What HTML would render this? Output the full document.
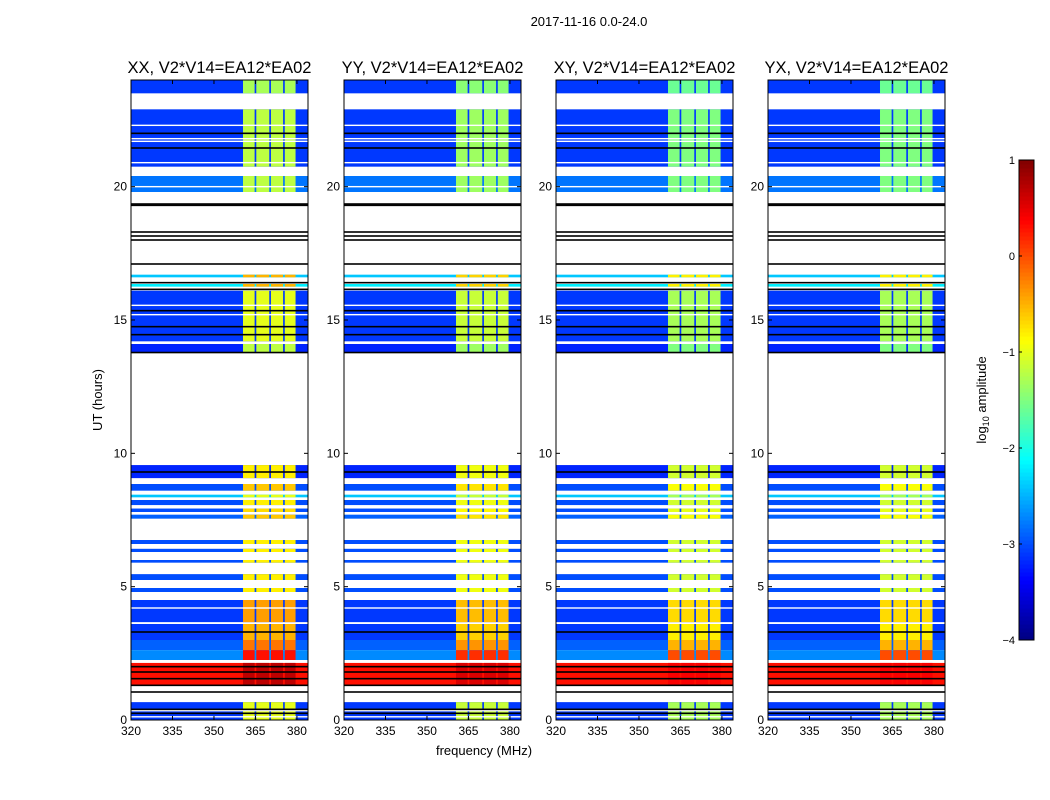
<!DOCTYPE html>
<html><head><meta charset="utf-8"><style>
body{margin:0;background:#fff;}
svg{display:block;font-family:"Liberation Sans",sans-serif;}
</style></head><body>
<svg id="fig" width="1050" height="800" viewBox="0 0 1050 800">
<text x="589" y="26" font-size="13" text-anchor="middle">2017-11-16 0.0-24.0</text>
<text transform="translate(102,400) rotate(-90)" font-size="13" text-anchor="middle">UT (hours)</text>
<text x="484" y="755" font-size="13" text-anchor="middle">frequency (MHz)</text>
<text transform="translate(986,400) rotate(-90)" font-size="13" text-anchor="middle">log<tspan font-size="9" dy="3">10</tspan><tspan dy="-3"> amplitude</tspan></text>
</svg>
<script>
// ---- data ----
const panelTitles = ["XX, V2*V14=EA12*EA02","YY, V2*V14=EA12*EA02","XY, V2*V14=EA12*EA02","YX, V2*V14=EA12*EA02"];
const panelBandOffset = [0, -0.15, -0.3, -0.3];
const segStart = [23.5, 20.75, 19.8, 16.6, 16.25, 14.2, 13.8, 9.07, 8.6, 8.35, 8.06, 7.8, 7.55, 6.6, 6.3, 5.9, 5.25, 4.8, 3.67, 3.0, 2.62, 2.25, 1.31, 0.0];
const segEnd   = [24.0, 22.9, 20.4, 16.7, 16.35, 16.1, 14.1, 9.56, 8.85, 8.45, 8.25, 7.93, 7.7, 6.75, 6.42, 6.0, 5.47, 4.95, 4.5, 3.6, 3.0, 2.62, 2.14, 0.67];
const bgLevel  = [-3.1, -3.1, -2.8, -2.4, -2.2, -3.1, -3.2, -3.2, -3.0, -2.4, -3.0, -3.0, -2.9, -3.0, -3.0, -3.0, -3.0, -3.0, -3.1, -3.1, -2.9, -2.7, 0.3, -3.1];
const bandLevel= [-1.3, -1.2, -1.2, -0.5, -0.5, -1.0, -1.2, -0.8, -0.6, -1.0, -0.8, -0.7, -0.6, -0.8, -0.8, -0.8, -0.8, -0.8, -0.4, -0.5, -0.2, 0.3, 0.7, -1.0];
const subBandLo = [360.5, 365.3, 370.6, 375.6];
const subBandHi = [364.7, 370.0, 375.0, 379.5];
const flagLines = [22.0, 21.45, 19.35, 19.3, 18.3, 18.15, 18.0, 17.1, 16.4, 16.15, 15.35, 14.75, 14.45, 13.78, 9.3, 3.3, 2.0, 1.8, 1.55, 1.3, 1.05, 0.4, 0.25];
const whiteLines = [22.3, 21.8, 21.7, 20.9, 20.0, 15.55, 15.2, 7.2, 4.2, 0.35, 0.12];
const yTicks = [0, 5, 10, 15, 20];
const xTicks = [320, 335, 350, 365, 380];
const cbTicks = [1, 0, -1, -2, -3, -4];
// ---- layout ----
const panelX = [131, 344, 556, 768];
const panelW = 177, plotTop = 80, plotBottom = 720;
const fMin = 320, fMax = 384, hMin = 0, hMax = 24;
const vMin = -4, vMax = 1;
const svg = document.getElementById('fig');
const NS = 'http://www.w3.org/2000/svg';
function mk(tag, attrs, parent){const e=document.createElementNS(NS,tag);for(const k in attrs)e.setAttribute(k,attrs[k]);(parent||svg).appendChild(e);return e;}
function yS(h){return plotBottom-(h-hMin)/(hMax-hMin)*(plotBottom-plotTop);}
function jet(v){
  let t=(v-vMin)/(vMax-vMin);t=Math.max(0,Math.min(1,t));
  const f=x=>Math.round(255*Math.max(0,Math.min(1,x)));
  const r=f(Math.min(4*t-1.5,-4*t+4.5)), g=f(Math.min(4*t-0.5,-4*t+3.5)), b=f(Math.min(4*t+0.5,-4*t+2.5));
  return `rgb(${r},${g},${b})`;
}
panelX.forEach((px,p)=>{
  const xS=f=>px+(f-fMin)/(fMax-fMin)*panelW;
  const g=mk('g',{});
  
  
  for(let i=0;i<segStart.length;i++){
    const y1=yS(segEnd[i]), y2=yS(segStart[i]);
    const r=mk('rect',{x:px,y:y1,width:panelW,height:y2-y1,fill:jet(bgLevel[i])},g);
    
    
    for(let b=0;b<subBandLo.length;b++){
      const rb=mk('rect',{x:xS(subBandLo[b]),y:y1,width:xS(subBandHi[b])-xS(subBandLo[b]),height:y2-y1,fill:jet(bandLevel[i]+panelBandOffset[p])},g);
      
      
    }
  }
  whiteLines.forEach(h=>{const l=mk('rect',{x:px,y:yS(h)-0.7,width:panelW,height:1.4,fill:'#fff'},g);
    
    });
  flagLines.forEach(h=>{const l=mk('rect',{x:px,y:yS(h)-0.8,width:panelW,height:1.6,fill:'#000'},g);
    
    });
  const fr=mk('rect',{x:px,y:plotTop,width:panelW,height:plotBottom-plotTop,fill:'none',stroke:'#000','stroke-width':1},g);
  
  
  const t=mk('text',{x:px+panelW/2,y:73,'font-size':16.5,'text-anchor':'middle'},g);
  t.textContent=panelTitles[p];
  
  
  yTicks.forEach(h=>{const y=yS(h);
    mk('line',{x1:px,x2:px+4,y1:y,y2:y,stroke:'#000'},g);mk('line',{x1:px+panelW-4,x2:px+panelW,y1:y,y2:y,stroke:'#000'},g);
    const tl=mk('text',{x:px-4,y:y+4,'font-size':12,'text-anchor':'end'},g);tl.textContent=h;
    
    });
  xTicks.forEach(f=>{const x=xS(f);
    mk('line',{x1:x,x2:x,y1:plotBottom,y2:plotBottom-4,stroke:'#000'},g);mk('line',{x1:x,x2:x,y1:plotTop,y2:plotTop+4,stroke:'#000'},g);
    const tl=mk('text',{x:x,y:plotBottom+15,'font-size':12,'text-anchor':'middle'},g);tl.textContent=f;
    
    });
});
// colorbar
const cb=mk('g',{});


const cbX=1019,cbW=15,cbTop=160,cbBot=640;
const cbY=v=>cbBot-(v-vMin)/(vMax-vMin)*(cbBot-cbTop);
for(let i=0;i<120;i++){const v=vMin+(i+0.5)*(vMax-vMin)/120;
  mk('rect',{x:cbX,y:cbY(vMin+(i+1)*(vMax-vMin)/120),width:cbW,height:(cbBot-cbTop)/120+0.5,fill:jet(v)},cb);}
mk('rect',{x:cbX,y:cbTop,width:cbW,height:cbBot-cbTop,fill:'none',stroke:'#000'},cb);
cbTicks.forEach(v=>{const y=cbY(v);
  mk('line',{x1:cbX,x2:cbX+3,y1:y,y2:y,stroke:'#000'},cb);
  const tl=mk('text',{x:cbX-4,y:y+4,'font-size':11,'text-anchor':'end'},cb);tl.textContent=v<0?'\u2212'+(-v):v;
  
  });
</script>
</body></html>
